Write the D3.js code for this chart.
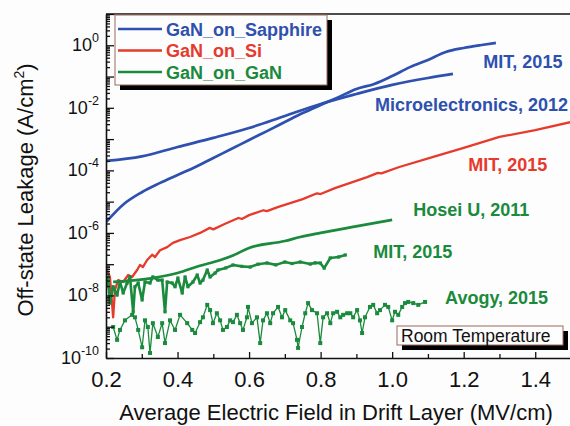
<!DOCTYPE html>
<html>
<head>
<meta charset="utf-8">
<script src="https://cdn.jsdelivr.net/npm/d3@7"></script>
<style>
    body { margin: 0; background: #fdfdfd; }
    svg { display: block; font-family: "Liberation Sans", Arial, sans-serif; }
</style>
</head>
<body>
<svg class="target" width="570" height="426"></svg>
<script>
// ---- data (field in MV/cm, leakage in A/cm2) ----
var sapphireMitField = [0.20, 0.25, 0.30, 0.35, 0.40, 0.45, 0.50, 0.55, 0.60, 0.65, 0.70, 0.75, 0.80, 0.85, 0.90, 0.95, 1.00, 1.05, 1.10, 1.15, 1.20, 1.25, 1.29];
var sapphireMitLeak = [2.2e-6, 8.4e-6, 2.0e-5, 3.9e-5, 7.1e-5, 1.28e-4, 2.5e-4, 4.8e-4, 9.4e-4, 1.8e-3, 3.5e-3, 6.8e-3, 1.23e-2, 2.2e-2, 4.0e-2, 5.8e-2, 0.104, 0.20, 0.34, 0.61, 0.82, 1.02, 1.19];

var sapphireMicroField = [0.20, 0.30, 0.40, 0.50, 0.60, 0.70, 0.80, 0.90, 1.00, 1.10, 1.17];
var sapphireMicroLeak = [2.0e-4, 2.8e-4, 5.6e-4, 1.09e-3, 2.26e-3, 5.5e-3, 1.33e-2, 2.77e-2, 5.4e-2, 9.0e-2, 0.121];

var siMitField = [0.200, 0.211, 0.220, 0.225, 0.234, 0.248, 0.262, 0.273, 0.287, 0.295, 0.303, 0.315, 0.329, 0.337, 0.351, 0.371, 0.387, 0.407, 0.435, 0.463, 0.49, 0.50, 0.53, 0.57, 0.58, 0.60, 0.64, 0.65, 0.68, 0.75, 0.79, 0.80, 0.84, 0.93, 0.96, 0.97, 1.02, 1.115, 1.20, 1.30, 1.40, 1.50];
var siMitLeak = [7.6e-8, 3.9e-8, 2.0e-9, 1.5e-8, 3.1e-8, 2.7e-8, 4.5e-8, 3.9e-8, 6.5e-8, 9.4e-8, 8.1e-8, 1.36e-7, 2.0e-7, 1.7e-7, 2.8e-7, 3.5e-7, 4.8e-7, 5.9e-7, 7.4e-7, 1.0e-6, 1.45e-6, 1.3e-6, 1.9e-6, 3.0e-6, 2.8e-6, 3.7e-6, 5.3e-6, 5.0e-6, 6.7e-6, 1.2e-5, 1.85e-5, 1.75e-5, 2.7e-5, 6.1e-5, 8.3e-5, 8.0e-5, 1.28e-4, 2.7e-4, 5.2e-4, 1.17e-3, 1.95e-3, 3.5e-3];

var ganHoseiField = [0.22, 0.33, 0.40, 0.46, 0.52, 0.555, 0.60, 0.70, 0.743, 0.80, 0.883, 1.00];
var ganHoseiLeak = [2.7e-8, 3.6e-8, 5.2e-8, 8.7e-8, 1.36e-7, 1.9e-7, 3.3e-7, 5.5e-7, 7.4e-7, 1.0e-6, 1.5e-6, 2.6e-6];

var ganMitField = [0.200, 0.206, 0.211, 0.220, 0.231, 0.239, 0.248, 0.259, 0.267, 0.276, 0.281, 0.290, 0.301, 0.309, 0.323, 0.331, 0.345, 0.357, 0.365, 0.371, 0.385, 0.393, 0.401, 0.413, 0.421, 0.429, 0.443, 0.455, 0.463, 0.471, 0.483, 0.491, 0.505, 0.513, 0.535, 0.555, 0.58, 0.603, 0.625, 0.650, 0.675, 0.70, 0.72, 0.743, 0.771, 0.785, 0.799, 0.81, 0.827, 0.85, 0.869];
var ganMitLeak = [1.9e-8, 3.9e-8, 5.7e-9, 1.9e-8, 1.03e-8, 2.7e-8, 1.2e-8, 2.5e-8, 3.9e-8, 3.0e-9, 1.9e-8, 2.5e-8, 7.2e-9, 2.7e-8, 2.5e-8, 3.9e-8, 3.1e-8, 3.1e-8, 3.0e-9, 2.7e-8, 2.5e-8, 1.9e-8, 3.6e-8, 1.2e-8, 3.9e-8, 1.9e-8, 2.7e-8, 4.5e-8, 2.5e-8, 3.1e-8, 6.5e-8, 3.9e-8, 5.2e-8, 6.5e-8, 7.6e-8, 9.4e-8, 8.5e-8, 8.1e-8, 1.0e-7, 1.09e-7, 9.5e-8, 1.17e-7, 1.05e-7, 1.17e-7, 1.01e-7, 1.1e-7, 1.09e-7, 7.5e-8, 1.58e-7, 1.7e-7, 1.97e-7];

var ganAvogyField = [0.220, 0.231, 0.239, 0.253, 0.273, 0.281, 0.290, 0.301, 0.309, 0.317, 0.323, 0.331, 0.345, 0.357, 0.365, 0.379, 0.393, 0.407, 0.427, 0.441, 0.449, 0.463, 0.471, 0.483, 0.491, 0.499, 0.510, 0.519, 0.527, 0.538, 0.547, 0.555, 0.566, 0.575, 0.583, 0.594, 0.597, 0.608, 0.622, 0.631, 0.639, 0.650, 0.659, 0.667, 0.681, 0.692, 0.701, 0.715, 0.723, 0.734, 0.737, 0.748, 0.757, 0.765, 0.776, 0.790, 0.799, 0.807, 0.818, 0.827, 0.835, 0.846, 0.855, 0.863, 0.874, 0.883, 0.891, 0.902, 0.910, 0.916, 0.924, 0.938, 0.947, 0.958, 0.966, 0.980, 0.989, 1.000, 1.008, 1.017, 1.028, 1.036, 1.045, 1.059, 1.073, 1.092];
var ganAvogyLeak = [9.8e-10, 3.8e-10, 7.9e-10, 1.6e-9, 2.4e-9, 2.0e-9, 7.9e-10, 2.2e-10, 1.6e-9, 9.8e-10, 1.45e-10, 1.3e-9, 4.7e-10, 1.3e-9, 3.0e-10, 1.6e-9, 7.9e-10, 2.4e-9, 1.3e-9, 7.9e-10, 6.3e-10, 1.4e-9, 2.0e-9, 5.0e-9, 3.4e-9, 1.3e-9, 2.7e-9, 1.6e-9, 7.9e-10, 9.8e-10, 1.6e-9, 1.4e-9, 2.4e-9, 1.3e-9, 7.9e-10, 2.0e-9, 4.3e-9, 1.3e-9, 2.0e-9, 3.0e-10, 1.6e-9, 2.7e-9, 1.3e-9, 2.7e-9, 4.3e-9, 2.0e-9, 3.4e-9, 1.6e-9, 1.3e-9, 3.8e-10, 2.1e-10, 9.8e-10, 2.7e-9, 5.7e-9, 3.4e-9, 2.7e-9, 3.0e-10, 2.0e-9, 2.7e-9, 1.3e-9, 2.7e-9, 3.0e-9, 2.0e-9, 2.4e-9, 2.7e-9, 2.7e-9, 2.0e-9, 3.4e-9, 1.6e-9, 6.3e-10, 2.0e-9, 4.3e-9, 5.0e-9, 2.7e-9, 3.4e-9, 5.0e-9, 4.3e-9, 1.6e-9, 3.0e-9, 2.4e-9, 4.3e-9, 5.7e-9, 6.2e-9, 5.7e-9, 5.0e-9, 6.2e-9];

var xTicks = [0.2, 0.4, 0.6, 0.8, 1.0, 1.2, 1.4];
var xMinorTicks = [0.3, 0.5, 0.7, 0.9, 1.1, 1.3, 1.5];
var yLabelExponents = [0, -2, -4, -6, -8, -10];

var legendLabels = ["GaN_on_Sapphire", "GaN_on_Si", "GaN_on_GaN"];
// annotation text anchored at (field, leakage)
var noteTexts = ["MIT, 2015", "Microelectronics, 2012", "MIT, 2015", "Hosei U, 2011", "MIT, 2015", "Avogy, 2015"];
var noteField = [1.255, 0.952, 1.213, 1.059, 0.947, 1.148];
var noteLeak = [0.181, 8.2e-3, 9.5e-5, 3.5e-6, 1.58e-7, 5.3e-9];

var blue = "#2e50ae", red = "#e63a2c", green = "#1a8a3c";
var noteColors = [blue, blue, red, green, green, green];
var legendColors = [blue, red, green];

var svg = d3.select(".target");
var left = 106, top_ = 14, right = 571, bottom = 358;

var x = d3.scaleLinear().domain([0.2, 1.5]).range([left, right]);
var y = d3.scaleLog().domain([1e-10, 10]).range([bottom, top_]);

svg.append("rect").attr("width", 570).attr("height", 426).attr("fill", "#fdfdfd");

svg.append("clipPath").attr("id", "plotclip")
    .append("rect").attr("x", left).attr("y", top_).attr("width", right - left).attr("height", bottom - top_);

var plot = svg.append("g").attr("clip-path", "url(#plotclip)");

var draw_series = function (xs, ys, color, width, curve) {
    var line = d3.line()
        .x(function (d, i) { return x(xs[i]); })
        .y(function (d) { return y(d); })
        .curve(curve || d3.curveLinear);
    plot.append("path")
        .attr("d", line(ys))
        .attr("fill", "none")
        .attr("stroke", color)
        .attr("stroke-width", width)
        .attr("stroke-linejoin", "round");
};

var draw_squares = function (xs, ys, color, size) {
    plot.selectAll(null).data(ys).enter().append("rect")
        .attr("x", function (d, i) { return x(xs[i]) - size / 2; })
        .attr("y", function (d) { return y(d) - size / 2; })
        .attr("width", size)
        .attr("height", size)
        .attr("fill", color);
};

draw_series(sapphireMicroField, sapphireMicroLeak, blue, 2.7, d3.curveMonotoneX);
draw_series(sapphireMitField, sapphireMitLeak, blue, 2.7, d3.curveMonotoneX);
draw_series(siMitField, siMitLeak, red, 2.3);
draw_series(ganAvogyField, ganAvogyLeak, green, 1.3);
draw_squares(ganAvogyField, ganAvogyLeak, green, 4);
draw_series(ganMitField, ganMitLeak, green, 2.6);
draw_squares(ganMitField, ganMitLeak, green, 3.2);
draw_series(ganHoseiField, ganHoseiLeak, green, 2.7, d3.curveMonotoneX);

// axes
var yMajor = d3.range(-10, 2).map(function (e) { return Math.pow(10, e); });
var yMinor = [];
d3.range(-10, 1).forEach(function (e) {
    for (var k = 2; k < 10; k++) yMinor.push(k * Math.pow(10, e));
});

svg.append("g").attr("transform", "translate(" + left + ",0)")
    .call(d3.axisLeft(y).tickValues(yMajor).tickSize(-8).tickSizeOuter(0).tickFormat(""));
svg.append("g").attr("transform", "translate(" + left + ",0)")
    .call(d3.axisLeft(y).tickValues(yMinor).tickSize(-4).tickSizeOuter(0).tickFormat(""))
    .select(".domain").remove();

var xAxis = svg.append("g").attr("transform", "translate(0," + bottom + ")")
    .call(d3.axisBottom(x).tickValues(xTicks).tickSize(-6).tickSizeOuter(0).tickPadding(13).tickFormat(d3.format(".1f")));
svg.append("g").attr("transform", "translate(0," + bottom + ")")
    .call(d3.axisBottom(x).tickValues(xMinorTicks).tickSize(-4).tickSizeOuter(0).tickFormat(""))
    .select(".domain").remove();

svg.selectAll(".domain").attr("stroke", "#111").attr("stroke-width", 1.6);
svg.selectAll(".tick line").attr("stroke", "#111").attr("stroke-width", 1.3);
xAxis.selectAll("text").attr("font-size", 22).attr("fill", "#111").attr("font-family", "Liberation Sans, Arial, sans-serif");

svg.append("line").attr("x1", left).attr("x2", right).attr("y1", top_).attr("y2", top_)
    .attr("stroke", "#111").attr("stroke-width", 1.6);

var yLab = svg.selectAll(null).data(yLabelExponents).enter().append("text")
    .attr("x", 99)
    .attr("y", function (d) { return y(Math.pow(10, d)) + 6; })
    .attr("text-anchor", "end")
    .attr("fill", "#111");
yLab.append("tspan").attr("font-size", 18).text("10");
yLab.append("tspan").attr("font-size", 12.5).attr("dy", -9).text(function (d) { return d === 0 ? "0" : "-" + (-d); });

// axis titles
var yTitle = svg.append("text")
    .attr("transform", "translate(33,190) rotate(-90)")
    .attr("text-anchor", "middle")
    .attr("font-size", 22)
    .attr("fill", "#111");
yTitle.append("tspan").text("Off-state Leakage (A/cm");
yTitle.append("tspan").attr("font-size", 14).attr("dy", -9).text("2");
yTitle.append("tspan").attr("dy", 9).text(")");

svg.append("text")
    .attr("x", 336).attr("y", 420)
    .attr("text-anchor", "middle")
    .attr("font-size", 22)
    .attr("fill", "#111")
    .text("Average Electric Field in Drift Layer (MV/cm)");

// legend
svg.append("rect").attr("x", 120).attr("y", 20).attr("width", 212).attr("height", 70).attr("fill", "#000");
svg.append("rect").attr("x", 115).attr("y", 15).attr("width", 212).attr("height", 70)
    .attr("fill", "#fdfdfd").attr("stroke", "#9a6a5a").attr("stroke-width", 1);
legendLabels.forEach(function (label, i) {
    var ly = 29 + i * 21.5;
    svg.append("line").attr("x1", 118).attr("x2", 162).attr("y1", ly).attr("y2", ly)
        .attr("stroke", legendColors[i]).attr("stroke-width", 2.7);
    svg.append("text").attr("x", 166).attr("y", ly + 6.5)
        .attr("font-size", 18).attr("font-weight", "bold")
        .attr("fill", legendColors[i]).text(label);
});

// series annotations
noteTexts.forEach(function (t, i) {
    svg.append("text")
        .attr("x", x(noteField[i]))
        .attr("y", y(noteLeak[i]))
        .attr("font-size", 18)
        .attr("font-weight", "bold")
        .attr("fill", noteColors[i])
        .text(t);
});

// room temperature box
svg.append("rect").attr("x", 402).attr("y", 331).attr("width", 166).attr("height", 19).attr("fill", "#000");
svg.append("rect").attr("x", 397).attr("y", 326).attr("width", 166).attr("height", 19)
    .attr("fill", "#fdfdfd").attr("stroke", "#9a6a5a").attr("stroke-width", 1);
svg.append("text").attr("x", 401).attr("y", 342)
    .attr("font-size", 17.5).attr("fill", "#111").text("Room Temperature");
</script>
</body>
</html>
